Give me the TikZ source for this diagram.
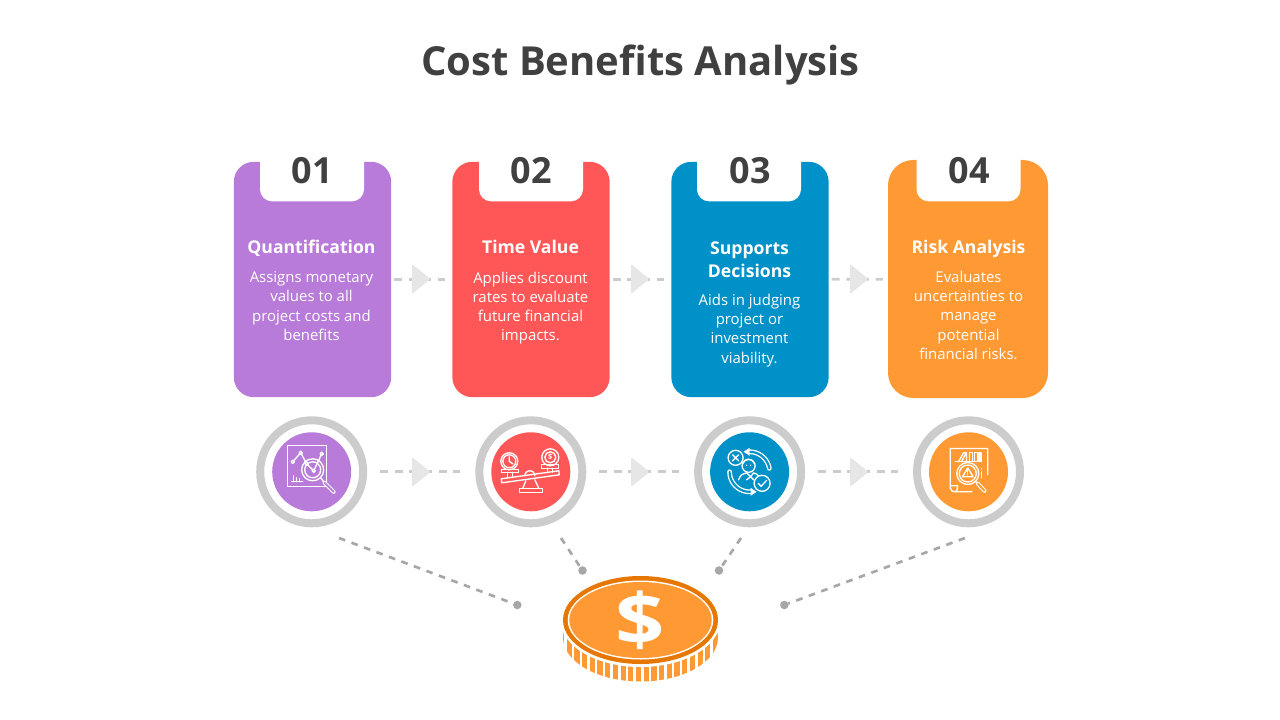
\documentclass[tikz,border=0pt]{standalone}
\usepackage{fontspec}
\setmainfont{Open Sans}
\definecolor{inkgrey}{HTML}{404040}
\definecolor{ringgrey}{HTML}{CCCCCC}
\definecolor{tipgrey}{HTML}{E6E6E6}
\definecolor{leadgrey}{HTML}{A9A6A6}
\definecolor{cardpurple}{HTML}{B97BD9}
\definecolor{cardred}{HTML}{FF5757}
\definecolor{cardblue}{HTML}{0091C8}
\definecolor{cardorange}{HTML}{FF9933}
\definecolor{coindark}{HTML}{E67700}
\tikzset{
    cardbox/.style={rectangle,rounded corners=15pt,minimum width=118pt,minimum height=176.5pt,inner sep=0pt,outer sep=0pt},
    tabbox/.style={rectangle,fill=white,rounded corners=9pt,minimum width=78pt,minimum height=50pt,inner sep=0pt},
    numlabel/.style={font=\fontsize{27}{27}\selectfont\bfseries,text=inkgrey},
    headlabel/.style={font=\fontsize{13.2}{17}\selectfont\bfseries,text=white,align=center},
    bodylabel/.style={font=\fontsize{11.2}{14.4}\selectfont,text=white,align=center,anchor=north},
    ringnode/.style={circle,draw=ringgrey,line width=6pt,minimum size=77.25pt,inner sep=0pt,outer sep=0pt},
    discnode/.style={circle,minimum size=59.25pt,inner sep=0pt,outer sep=0pt},
    flowdash/.style={ringgrey,line width=2pt,dash pattern=on 6pt off 5pt},
    leaddash/.style={leadgrey,line width=2pt,dash pattern=on 5pt off 5pt},
    leaddot/.style={circle,fill=leadgrey,minimum size=6.4pt,inner sep=0pt,outer sep=0pt},
    iconline/.style={white,line width=1pt,line join=round,line cap=round},
}
\begin{document}
\begin{tikzpicture}[x=0.75pt,y=-0.75pt]
    \useasboundingbox (0,0) rectangle (1280,720);
    \node (title) at (640.5,65.5) [font=\fontsize{30}{36}\selectfont\bfseries,text=inkgrey] {Cost Benefits Analysis};
    % cards
    \node (card1) at (312.5,279.5) [cardbox,fill=cardpurple] {};
    \node (card2) at (531,279.5) [cardbox,fill=cardred] {};
    \node (card3) at (750,279.5) [cardbox,fill=cardblue] {};
    \node (card4) at (968,279) [cardbox,fill=cardorange,minimum width=120pt,minimum height=178.5pt,rounded corners=19pt] {};
    \node (tab1) at (312,168) [tabbox] {};
    \node (tab2) at (531,168) [tabbox] {};
    \node (tab3) at (749,168) [tabbox] {};
    \node (tab4) at (968.5,168) [tabbox] {};
    \node (num1) at (312,171) [numlabel] {01};
    \node (num2) at (531.5,171) [numlabel] {02};
    \node (num3) at (750,171) [numlabel] {03};
    \node (num4) at (969.5,171) [numlabel] {04};
    \node (head1) at (311.5,253) [headlabel,anchor=base] {Quantification};
    \node (head2) at (530.5,253) [headlabel,anchor=base] {Time Value};
    \node (head3) at (749.5,260) [headlabel] {Supports\\Decisions};
    \node (head4) at (968.5,253) [headlabel,anchor=base] {Risk Analysis};
    \node (body1) at (311.5,267) [bodylabel] {Assigns monetary\\values to all\\project costs and\\benefits};
    \node (body2) at (530.5,267) [bodylabel] {Applies discount\\rates to evaluate\\future financial\\impacts.};
    \node (body3) at (749.5,289.5) [bodylabel] {Aids in judging\\project or\\investment\\viability.};
    \node (body4) at (968.5,266.5) [bodylabel] {Evaluates\\uncertainties to\\manage\\potential\\financial risks.};
    % rings
    \node (ring1) at (311.7,471.8) [ringnode] {};
    \node (ring2) at (530.8,471.8) [ringnode] {};
    \node (ring3) at (749.6,471.8) [ringnode] {};
    \node (ring4) at (968.5,471.8) [ringnode] {};
    \node (disc1) at (ring1) [discnode,fill=cardpurple] {};
    \node (disc2) at (ring2) [discnode,fill=cardred] {};
    \node (disc3) at (ring3) [discnode,fill=cardblue] {};
    \node (disc4) at (ring4) [discnode,fill=cardorange] {};
    % dashes between cards and rings
    \draw [flowdash,shorten <=2.2pt,shorten >=5.5pt] (card1) -- (card2);
    \draw [flowdash,shorten <=2.2pt,shorten >=5.5pt] (card2) -- (card3);
    \draw [flowdash,shorten <=2.2pt,shorten >=3.8pt] (card3) -- (card4);
    \draw [flowdash,shorten <=12.6pt,shorten >=14.4pt] (ring1) -- (ring2);
    \draw [flowdash,shorten <=12.6pt,shorten >=14.4pt] (ring2) -- (ring3);
    \draw [flowdash,shorten <=12.6pt,shorten >=14.4pt] (ring3) -- (ring4);
    \foreach \tx in {412,631,850}
        \foreach \ty in {279,472}
            \fill [tipgrey,rounded corners=1pt] (\tx,\ty-15) -- (\tx+18.5,\ty) -- (\tx,\ty+15) -- cycle;
    % leaders to the coin
    \coordinate (lead1) at (339,538);
    \coordinate (lead2) at (561,538);
    \coordinate (lead3) at (741,538);
    \coordinate (lead4) at (965,538);
    \node (dot1) at (517.3,605) [leaddot] {};
    \node (dot2) at (582.5,570.5) [leaddot] {};
    \node (dot3) at (719,570.5) [leaddot] {};
    \node (dot4) at (784.3,605) [leaddot] {};
    \draw [leaddash] (lead1) -- (dot1);
    \draw [leaddash] (lead2) -- (dot2);
    \draw [leaddash] (lead3) -- (dot3);
    \draw [leaddash] (lead4) -- (dot4);
    % coin
    \begin{scope}
        \clip (563,630) rectangle (718,690);
        \clip (640.5,637.5) ellipse (77.5 and 44);
        \foreach \k in {-10,...,10}
            \fill [cardorange] ({638.5+7.7*\k-2.6},600) rectangle ({638.5+7.7*\k+2.6},690);
    \end{scope}
    \fill [white] (640.5,621) ellipse (79.5 and 46);
    \fill [coindark] (640.5,620) ellipse (77.5 and 44);
    \fill [white] (640.5,620) ellipse (72.8 and 39.5);
    \fill [cardorange] (640.5,620) ellipse (71.2 and 38);
    \node (dollar) at (640,620.5) [font=\fontsize{54}{54}\selectfont\bfseries,text=white] {\scalebox{1.2}[1]{\$}};
    % icon 1: chart under a magnifier
    \begin{scope}[shift={(ring1.center)},iconline]
        \draw (-24.5,-26) rectangle (15,15);
        \fill [cardpurple] (1,-2) circle (11.5);
        \fill [cardpurple] (14,10) rectangle (16,16);
        \draw (1,-2) circle (11);
        \draw (1,-2) circle (8);
        \draw (-19,-10) -- (-11,-19) -- (-5,-8) -- (2,-1) -- (10,-18);
        \foreach \px/\py in {-19/-10,-11/-19,-5/-8,2/-1,10/-18}
            \draw [fill=cardpurple] (\px,\py) circle (1.6);
        \draw (-20,10) -- (-9,10) (-18,10) -- (-18,4) (-15,10) -- (-15,6) (-12,10) -- (-12,7);
        \draw (9,6) -- (12,10);
        \draw [line width=3pt] (13,11) -- (22,20);
        \draw [cardpurple,line width=1.4pt] (13,11) -- (22,20);
    \end{scope}
    % icon 2: balance
    \begin{scope}[shift={(ring2.center)},iconline]
        \draw (-29.5,7) -- (28,-1) -- (28.5,3) -- (-29,11) -- cycle;
        \draw plot [domain=180:360,samples=13] ({-1+5*cos(\x)},{4+5*sin(\x)});
        \draw (-5,9) -- (-8,16.5) (4,8) -- (8,16.5);
        \draw (-11.5,16.5) rectangle (11.5,21);
        \draw (-29,-2.5) rectangle (-12,0.5);
        \draw (11,-7) rectangle (28,-3.5);
        \draw (-23,0.5) -- (-23,6) (-18,0.5) -- (-18,5.5) (17,-3.5) -- (17,1) (22,-3.5) -- (22,0.5);
        \draw (-21.5,-10.5) circle (8.5);
        \draw (-21.5,-10.5) circle (6.5);
        \draw (-21.5,-15) -- (-21.5,-10.5) -- (-18,-8);
        \draw (19.5,-14.5) circle (8.5);
        \draw (19.5,-14.5) circle (5.5);
        \node (cent) at (19.5,-14.5) [font=\fontsize{5.5}{5.5}\selectfont\bfseries,text=white,inner sep=0pt] {\$};
    \end{scope}
    % icon 3: person between two arrows
    \begin{scope}[shift={(ring3.center)},iconline]
        \draw [double=cardblue,double distance=1.6pt] plot [domain=-93:-10,samples=17] ({20*cos(\x)},{20*sin(\x)});
        \draw [double=cardblue,double distance=1.6pt] plot [domain=87:180,samples=17] ({20*cos(\x)},{20*sin(\x)});
        \fill [white] (-6,-20) -- (0,-24) -- (0,-16) -- cycle;
        \fill [white] (7,20) -- (1,24) -- (1,16) -- cycle;
        \draw [fill=cardblue] (-14,-14) circle (7.5);
        \draw (-17,-17) -- (-11,-11) (-17,-11) -- (-11,-17);
        \draw (-1,-6) circle (6.5);
        \draw (-7,-8) .. controls (-5,-14) and (3,-14) .. (5,-8);
        \fill [white] (-3,-6.5) circle (0.8) (1,-6.5) circle (0.8);
        \draw (-11,8) .. controls (-9,2) and (-6,2) .. (-3,1) -- (1,5) -- (4,1) .. controls (7,2) and (9,3) .. (9,5);
        \draw (-3,8) -- (1,5) -- (4,8);
        \draw [fill=cardblue] (12.5,11.5) circle (8);
        \draw (8.5,11.5) -- (11.5,14.5) -- (17,8.5);
    \end{scope}
    % icon 4: report under a magnifier
    \begin{scope}[shift={(ring4.center)},iconline]
        \draw (19.3,3) -- (19.3,-23.3) -- (-18.3,-23.3) -- (-18.3,16) .. controls (-18,19) and (-16,20) .. (-13,20) -- (3.5,20);
        \draw (-18.3,14) -- (-11,14) .. controls (-11,18) and (-12,20) .. (-13,20);
        \draw (-13,-10) -- (13,-10);
        \draw (-10,-10) -- (-5,-19) -- (-2,-19) -- (-2,-10) (-7,-10) -- (-3,-18);
        \draw (1,-10) rectangle (4,-19) (6,-10) rectangle (9,-19) (10.5,-10) rectangle (12.5,-19);
        \fill [cardorange] (-0.7,1.7) circle (11);
        \draw (-0.7,1.7) circle (11);
        \draw (-0.7,1.7) circle (8.5);
        \draw (-0.7,-4) -- (-6,5) -- (4.6,5) -- cycle;
        \draw (-0.7,-1.5) -- (-0.7,1.5) (-0.7,3.2) -- (-0.7,3.3);
        \draw (13,-3) -- (13,-2.8) (13,0) -- (13,6);
        \draw (7,9.5) -- (9,12);
        \draw [line width=3pt] (9.5,12) -- (16,19);
        \draw [cardorange,line width=1.4pt] (9.5,12) -- (16,19);
    \end{scope}
\end{tikzpicture}
\end{document}
